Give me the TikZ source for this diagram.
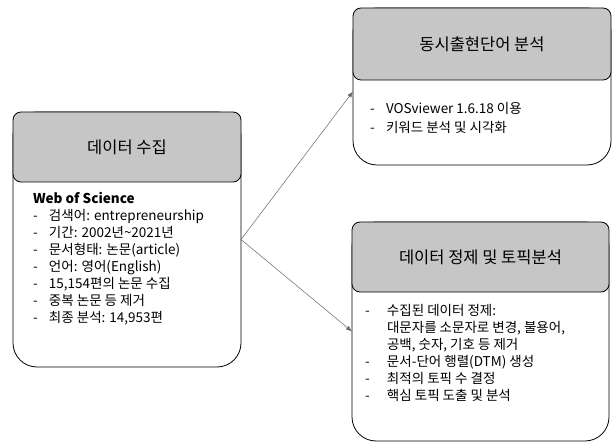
\documentclass[tikz,border=0pt]{standalone}
\usepackage{fontspec}
\setmainfont{Noto Sans CJK KR}
\usetikzlibrary{arrows.meta}
\newcommand{\dashitem}[1][16pt]{\makebox[#1][l]{-}}

\begin{document}
\begin{tikzpicture}[x=1pt,y=-1pt,inner sep=0pt,outer sep=0pt,
>={Latex[length=6pt,width=4.5pt]},
stepbody/.style={draw,rectangle,rounded corners=24pt,line width=0.8pt},
stephead/.style={draw,rectangle,rounded corners=8pt,line width=0.8pt,fill=gray!45,font=\fontsize{16.5}{20}\selectfont},
steplist/.style={anchor=north west,align=left,font=\fontsize{13.5}{17}\selectfont}]

\useasboundingbox (0,0) rectangle (612,443);

% data collection
\draw (127,239.5) node[stepbody,minimum width=228pt,minimum height=255pt] (collect) {};
\draw (127,147) node[stephead,minimum width=228pt,minimum height=70pt] (collecthead) {데이터 수집};
\draw (33,192) node[steplist] (collectlist) {\textbf{Web of Science}\\
\dashitem 검색어: entrepreneurship\\
\dashitem 기간: 2002년\textasciitilde2021년\\
\dashitem 문서형태: 논문(article)\\
\dashitem 언어: 영어(English)\\
\dashitem 15,154편의 논문 수집\\
\dashitem 중복 논문 등 제거\\
\dashitem 최종 분석: 14,953편};

% co-occurrence
\draw (482,86.5) node[stepbody,minimum width=258pt,minimum height=157pt] (cooc) {};
\draw (482,44) node[stephead,minimum width=258pt,minimum height=72pt] (coochead) {동시출현단어 분석};
\draw (370,102) node[steplist,font=\fontsize{13.5}{19.5}\selectfont] (cooclist) {\dashitem VOSviewer 1.6.18 이용\\
\dashitem 키워드 분석 및 시각화};

% cleaning and topics
\draw (480.5,331.5) node[stepbody,minimum width=257pt,minimum height=219pt] (topic) {};
\draw (480.5,257) node[stephead,minimum width=257pt,minimum height=70pt] (topichead) {데이터 정제 및 토픽분석};
\draw (365,304) node[steplist] (topiclist) {\dashitem[22pt]수집된 데이터 정제:\\
\hspace*{22pt}대문자를 소문자로 변경, 불용어,\\
\hspace*{22pt}공백, 숫자, 기호 등 제거\\
\dashitem[22pt]문서-단어 행렬(DTM) 생성\\
\dashitem[22pt]최적의 토픽 수 결정\\
\dashitem[22pt]핵심 토픽 도출 및 분석};

\draw[->,line width=0.5pt,black!60] (collect.east) -- ([yshift=-5pt]cooc.west);
\draw[->,line width=0.5pt,black!60] (collect.east) -- (topic.west);

\end{tikzpicture}
\end{document}
